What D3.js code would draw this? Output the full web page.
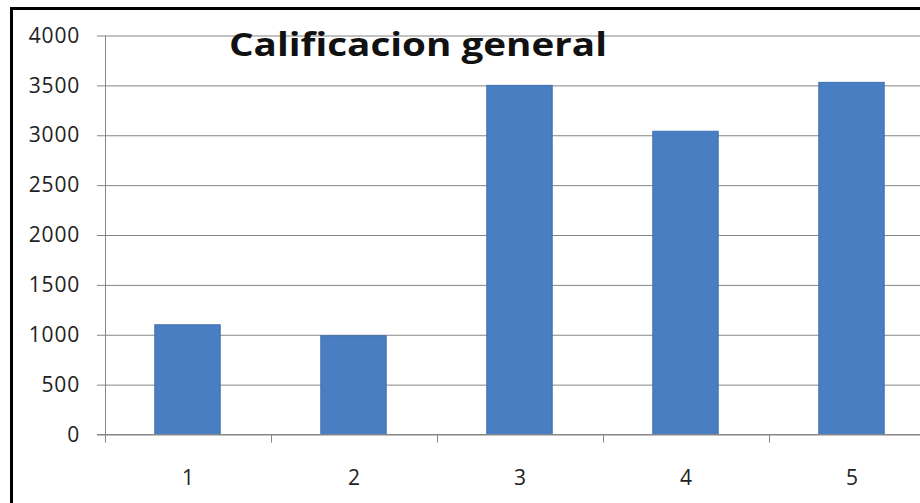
<!DOCTYPE html>
<html>
<head>
<meta charset="utf-8">
<script src="https://cdn.jsdelivr.net/npm/d3@7"></script>
<style>
  html, body { margin: 0; padding: 0; background: #fff; overflow: hidden; }
  #container { width: 920px; height: 503px; overflow: hidden; }
  svg { display: block; }
</style>
</head>
<body>
<div id="container"></div>
<script>
// Chart data
const categories = ["1", "2", "3", "4", "5"];
const values = [1100, 990, 3500, 3040, 3530];
const yTicks = [0, 500, 1000, 1500, 2000, 2500, 3000, 3500, 4000];
const title = "Calificacion general";

const svg = d3
  .select("#container")
  .append("svg")
  .attr("width", 920)
  .attr("height", 503);

// Outer frame: only the top and left edges are inside the picture
svg
  .append("path")
  .attr("d", "M11.5,503 V8.5 H920")
  .attr("fill", "none")
  .attr("stroke", "#000")
  .attr("stroke-width", 3);

// Scales
const x = d3
  .scaleBand()
  .domain(categories)
  .range([105, 935])
  .paddingInner(0.6)
  .paddingOuter(0.3);

const y = d3.scaleLinear().domain([0, 4000]).range([434.5, 35.5]);

const font = "'Open Sans', 'DejaVu Sans', sans-serif";

// Gridlines + y ticks
const yAxis = svg
  .append("g")
  .attr("transform", "translate(105,0)")
  .call(
    d3
      .axisLeft(y)
      .tickValues(yTicks)
      .tickSize(8)
      .tickPadding(17)
      .tickFormat(d3.format("d"))
  );
yAxis.select(".domain").remove();
yAxis.selectAll(".tick line").attr("stroke", "#868686");
yAxis
  .selectAll(".tick")
  .append("line")
  .attr("x1", 0)
  .attr("x2", 830)
  .attr("stroke", "#868686");
yAxis
  .selectAll(".tick text")
  .attr("fill", "#222")
  .style("font-family", font)
  .style("font-size", "21px")
  .style("letter-spacing", "0.8px");

// Vertical axis line
svg
  .append("line")
  .attr("x1", 105.5)
  .attr("x2", 105.5)
  .attr("y1", y(4000))
  .attr("y2", y(0) + 1)
  .attr("stroke", "#868686");

// Title (drawn over the top gridline)
svg
  .append("text")
  .attr("x", 418)
  .attr("y", 56)
  .attr("text-anchor", "middle")
  .attr("textLength", 378)
  .attr("lengthAdjust", "spacingAndGlyphs")
  .style("font-family", font)
  .style("font-weight", "bold")
  .style("font-size", "33px")
  .attr("fill", "#111")
  .text(title);

// Bars
svg
  .selectAll(".bar")
  .data(categories)
  .enter()
  .append("rect")
  .attr("class", "bar")
  .attr("x", (d) => x(d))
  .attr("y", (d, i) => y(values[i]))
  .attr("width", x.bandwidth() - 1)
  .attr("height", (d, i) => y(0) - y(values[i]))
  .attr("fill", "#4a7ec2")
  .attr("stroke", "#3f6fb0")
  .attr("stroke-width", 1);

// X axis with ticks between categories
const xAxisG = svg.append("g").attr("transform", "translate(0," + y(0) + ")");
xAxisG
  .append("line")
  .attr("x1", 97)
  .attr("x2", 935)
  .attr("stroke", "#868686");
xAxisG
  .selectAll(".sep")
  .data(categories)
  .enter()
  .append("line")
  .attr("class", "sep")
  .attr("x1", (d) => x(d) - (x.step() * x.paddingInner()) / 2 + 0.5)
  .attr("x2", (d) => x(d) - (x.step() * x.paddingInner()) / 2 + 0.5)
  .attr("y1", 0)
  .attr("y2", 8)
  .attr("stroke", "#868686");
xAxisG
  .selectAll(".xlabel")
  .data(categories)
  .enter()
  .append("text")
  .attr("class", "xlabel")
  .attr("x", (d) => x(d) + x.bandwidth() / 2)
  .attr("y", 50)
  .attr("text-anchor", "middle")
  .attr("fill", "#222")
  .style("font-family", font)
  .style("font-size", "21px")
  .text((d) => d);
</script>
</body>
</html>
